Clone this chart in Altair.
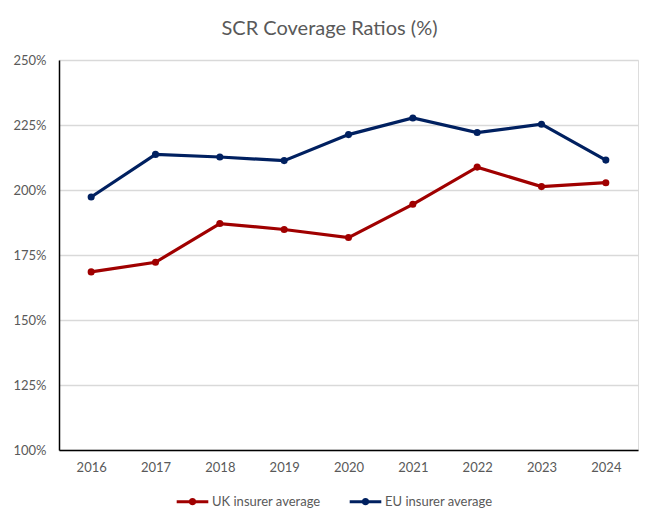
import altair as alt
import pandas as pd

years = ["2016", "2017", "2018", "2019", "2020", "2021", "2022", "2023", "2024"]
uk_avg = [168.5, 172.2, 187.1, 184.8, 181.7, 194.5, 208.8, 201.3, 202.8]
eu_avg = [197.3, 213.7, 212.7, 211.3, 221.3, 227.7, 222.1, 225.3, 211.5]
series_names = ["UK insurer average", "EU insurer average"]
series_colors = ["#A00000", "#002060"]

rows = []
for y, v in zip(years, uk_avg):
    rows.append({"year": y, "value": v, "series": series_names[0]})
for y, v in zip(years, eu_avg):
    rows.append({"year": y, "value": v, "series": series_names[1]})
df = pd.DataFrame(rows)

FONT = "Lato"
GREY = "#595959"

legend_symbol = "M-1,0L1,0M-0.14,0a0.14,0.14 0 1,0 0.28,0a0.14,0.14 0 1,0 -0.28,0Z"

x_enc = alt.X("year:N", sort=years, title=None,
              axis=alt.Axis(labelAngle=0, labelFontSize=13, labelColor=GREY, labelFont=FONT,
                            ticks=False, domain=True, domainColor="#000000", domainWidth=1.5,
                            labelPadding=11, grid=False))
y_enc = alt.Y("value:Q", title=None,
              scale=alt.Scale(domain=[100, 250], nice=False, zero=False),
              axis=alt.Axis(values=[100, 125, 150, 175, 200, 225, 250],
                            labelExpr="datum.value + '%'",
                            labelFontSize=13, labelColor=GREY, labelFont=FONT,
                            ticks=False, domainColor="#000000", domainWidth=1.5,
                            labelPadding=13, gridColor="#D9D9D9", gridWidth=1.5))

base = alt.Chart(df)

lines = base.mark_line(strokeWidth=3.2).encode(
    x=x_enc, y=y_enc,
    color=alt.Color("series:N", sort=series_names,
                    scale=alt.Scale(domain=series_names, range=series_colors),
                    legend=alt.Legend(title=None, orient="none", direction="horizontal",
                                      legendX=116, legendY=424,
                                      symbolType=legend_symbol, symbolSize=1000,
                                      symbolStrokeWidth=3, columnPadding=22,
                                      labelFontSize=13, labelColor=GREY, labelFont=FONT,
                                      labelOffset=2)),
)

points = base.mark_point(filled=True, size=50, opacity=1).encode(
    x=x_enc, y=y_enc,
    fill=alt.Fill("series:N", sort=series_names,
                  scale=alt.Scale(domain=series_names, range=series_colors),
                  legend=None),
)

chart = alt.layer(lines, points).properties(
    width=579,
    height=390,
    title=alt.TitleParams("SCR Coverage Ratios (%)", fontSize=20, font=FONT,
                          color=GREY, fontWeight="normal", anchor="middle",
                          dx=-19, offset=15),
    autosize=alt.AutoSizeParams(type="none"),
    padding={"left": 51, "top": 52, "right": 2, "bottom": 72},
).configure_view(
    stroke="#000000", strokeWidth=1.5
).configure(background="white")

chart.save("out.html", embed_options={"renderer": "svg", "actions": False})
